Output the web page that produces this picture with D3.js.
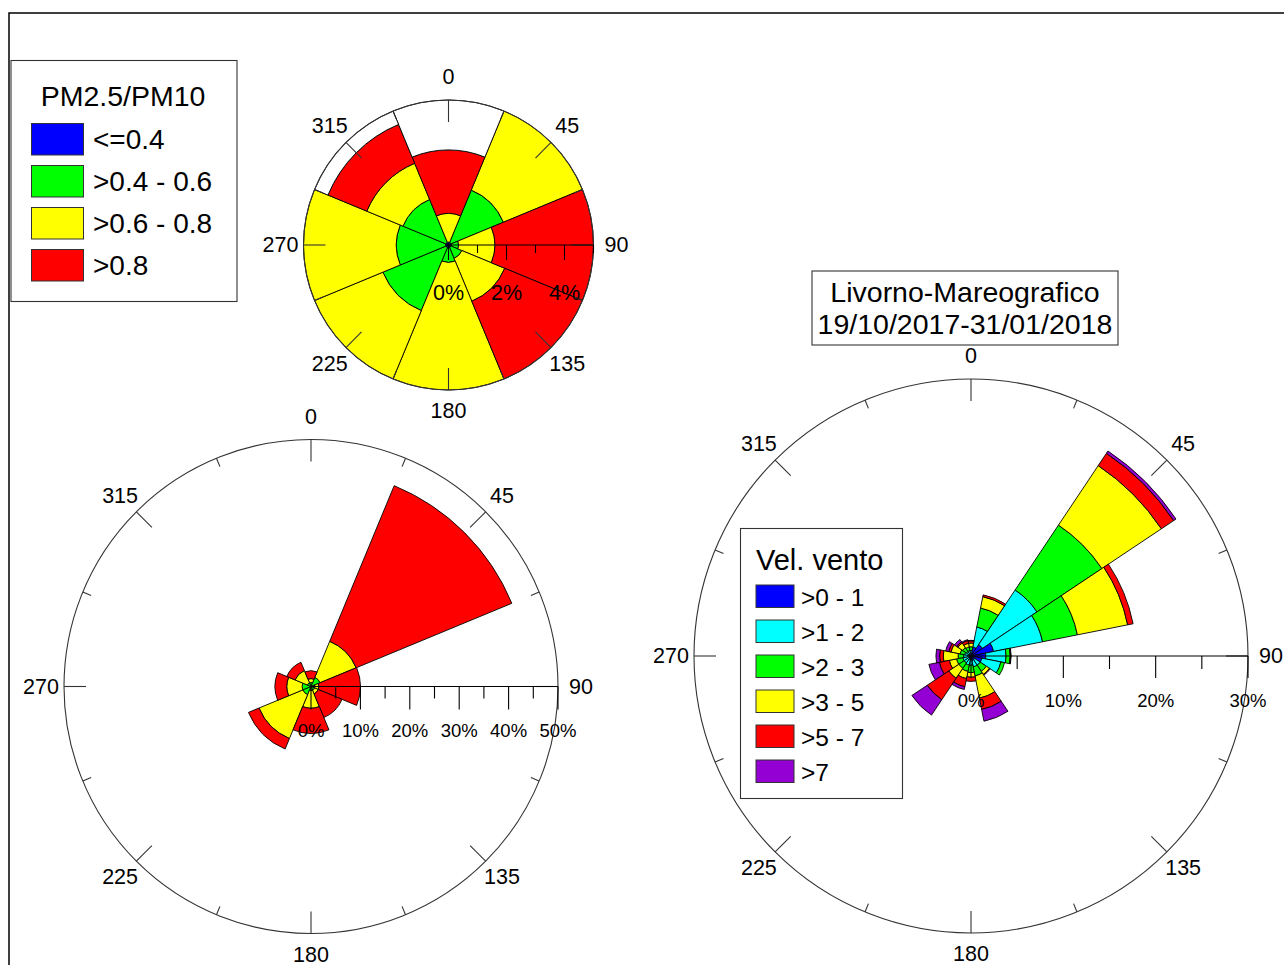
<!DOCTYPE html>
<html>
<head>
<meta charset="utf-8">
<script src="https://cdn.jsdelivr.net/npm/d3@7"></script>
<style>
  body { margin: 0; background: #fff; }
  text { font-family: "Liberation Sans", Arial, sans-serif; fill: #000; }
</style>
</head>
<body>
<svg id="chart" width="1284" height="965"></svg>
<script>
// ---- data ----
const dirs8 = [0, 45, 90, 135, 180, 225, 270, 315];
const dirs16 = [0, 22.5, 45, 67.5, 90, 112.5, 135, 157.5, 180, 202.5, 225, 247.5, 270, 292.5, 315, 337.5];

const pmLabels = ["<=0.4", ">0.4 - 0.6", ">0.6 - 0.8", ">0.8"];
const pmColors = ["#0000ff", "#00ff00", "#ffff00", "#ff0000"];

// upper rose (% per sector, per PM2.5/PM10 class), last row = unclassified (white)
const upBlue   = [0.1, 0.1, 0.1, 0.1, 0.1, 0.1, 0.1, 0.1];
const upGreen  = [0, 1.95, 0.25, 0.4, 0.5, 2.35, 1.7, 1.6];
const upYellow = [0.99, 2.95, 1.25, 1.6, 4.4, 2.55, 3.2, 1.35];
const upRed    = [2.19, 0, 3.4, 2.9, 0, 0, 0, 1.45];
const upND     = [1.72, 0, 0, 0, 0, 0, 0, 0.5];

// lower-left rose
const loBlue   = [0.1, 0.1, 0.1, 0.1, 0.1, 0.1, 0.1, 0.1];
const loGreen  = [0.7, 1.9, 0.7, 0.7, 0.7, 1.7, 1.7, 0.7];
const loYellow = [0.8, 7.9, 0.8, 0.8, 3.6, 9.6, 3.1, 2.7];
const loRed    = [1.6, 34.1, 8.4, 5.2, 5.1, 2.3, 2.4, 1.8];

// wind rose
const windLabels = [">0 - 1", ">1 - 2", ">2 - 3", ">3 - 5", ">5 - 7", ">7"];
const windColors = ["#0000ff", "#00ffff", "#00ff00", "#ffff00", "#ff0000", "#9400d3"];
const ws01 = [0.3, 1.0, 1.5, 2.5, 1.6, 1.2, 0.5, 0.5, 0.4, 0.4, 0.3, 0.3, 0.3, 0.3, 0.3, 0.3];
const ws12 = [0.3, 2.2, 7.1, 5.4, 2.2, 2.1, 0.7, 0.7, 0.6, 0.6, 0.6, 0.6, 0.5, 0.4, 0.3, 0.3];
const ws23 = [0.4, 2.1, 8.45, 3.85, 0.45, 0.4, 0.8, 1.0, 0.8, 0.7, 0.7, 0.7, 0.6, 0.5, 0.5, 0.4];
const ws35 = [0.4, 1.25, 7.75, 5.55, 0.05, 0, 0.4, 2.45, 0.5, 0.8, 1.3, 0.8, 1.6, 1.0, 0.6, 0.4];
const ws57 = [0.25, 0.2, 1.6, 0.6, 0.05, 0, 0.1, 1.25, 0.45, 0.9, 2.8, 1.1, 0.4, 0.25, 0.15, 0.3];
const ws7  = [0.05, 0, 0.3, 0, 0, 0, 0, 1.3, 0, 0.3, 2.0, 1.15, 0.4, 0.35, 0.3, 0.1];

const dirLabels = [0, 45, 90, 135, 180, 225, 270, 315];

const svg = d3.select("#chart");

svg.append("rect")
    .attr("x", 9).attr("y", 13)
    .attr("width", 1300).attr("height", 1000)
    .attr("fill", "none")
    .attr("stroke", "#000")
    .attr("stroke-width", 1.5);

function drawRose(o) {
    const g = svg.append("g").attr("transform", `translate(${o.cx},${o.cy})`);
    const r = d3.scaleLinear().domain([0, o.max]).range([0, o.radius]);
    const half = o.width / 2 * Math.PI / 180;

    const keys = o.series.map((s, i) => "k" + i);
    const rows = o.dirs.map((d, j) => {
        const row = { dir: d };
        o.series.forEach((s, i) => row["k" + i] = s[j]);
        return row;
    });
    const stacked = d3.stack().keys(keys)(rows);

    const arc = d3.arc()
        .innerRadius(d => r(d[0]))
        .outerRadius(d => r(d[1]))
        .startAngle(d => d.data.dir * Math.PI / 180 - half)
        .endAngle(d => d.data.dir * Math.PI / 180 + half);

    stacked.forEach((layer, i) => {
        g.append("g").selectAll("path")
            .data(layer.filter(d => d[1] - d[0] > 0))
            .join("path")
            .attr("d", arc)
            .attr("fill", o.colors[i])
            .attr("stroke", "#000")
            .attr("stroke-width", 0.9);
    });

    // outer circle
    g.append("circle")
        .attr("r", o.radius)
        .attr("fill", "none")
        .attr("stroke", "#333")
        .attr("stroke-width", 1.1);

    // direction ticks
    const tickAngles = d3.range(0, 360, 22.5);
    g.selectAll(".dtick")
        .data(tickAngles)
        .join("line")
        .attr("x1", a => (o.radius - (a % 45 === 0 ? 22 : 9)) * Math.sin(a * Math.PI / 180))
        .attr("y1", a => -(o.radius - (a % 45 === 0 ? 22 : 9)) * Math.cos(a * Math.PI / 180))
        .attr("x2", a => o.radius * Math.sin(a * Math.PI / 180))
        .attr("y2", a => -o.radius * Math.cos(a * Math.PI / 180))
        .attr("stroke", "#333")
        .attr("stroke-width", 1.1);

    g.selectAll(".dlab")
        .data(dirLabels)
        .join("text")
        .attr("x", a => (o.radius + 23) * Math.sin(a * Math.PI / 180))
        .attr("y", a => -(o.radius + 23) * Math.cos(a * Math.PI / 180) - (a === 180 ? 2 : 0))
        .attr("text-anchor", "middle")
        .attr("dominant-baseline", "central")
        .style("font-size", "21.5px")
        .text(d => d);

    // radial axis along 90
    g.append("line")
        .attr("x1", 0).attr("y1", 0)
        .attr("x2", o.radius).attr("y2", 0)
        .attr("stroke", "#000")
        .attr("stroke-width", 1.1);

    const ticks = d3.range(0, o.max + 1e-9, o.tickStep);
    g.selectAll(".rtick")
        .data(ticks)
        .join("line")
        .attr("x1", v => r(v)).attr("x2", v => r(v))
        .attr("y1", 0)
        .attr("y2", v => (Math.round(v / o.labelStep * 1000) % 1000 === 0) ? o.longTick : o.shortTick)
        .attr("stroke", "#000")
        .attr("stroke-width", 1.1);

    g.selectAll(".rlab")
        .data(o.labels)
        .join("text")
        .attr("x", v => r(v))
        .attr("y", o.labelDy)
        .attr("text-anchor", "middle")
        .attr("dominant-baseline", "central")
        .style("font-size", o.labelSize + "px")
        .text(v => v + "%");
}

drawRose({
    cx: 448.5, cy: 245, radius: 145, max: 5, width: 45,
    dirs: dirs8,
    series: [upBlue, upGreen, upYellow, upRed, upND],
    colors: pmColors.concat(["#ffffff"]),
    tickStep: 1, labelStep: 2, longTick: 15, shortTick: 8,
    labels: [0, 2, 4], labelDy: 48, labelSize: 21.5
});

drawRose({
    cx: 311, cy: 686.5, radius: 247, max: 50, width: 45,
    dirs: dirs8,
    series: [loBlue, loGreen, loYellow, loRed],
    colors: pmColors,
    tickStep: 5, labelStep: 10, longTick: 23, shortTick: 12,
    labels: [0, 10, 20, 30, 40, 50], labelDy: 44, labelSize: 18.5
});

drawRose({
    cx: 971, cy: 656, radius: 277, max: 30, width: 22.5,
    dirs: dirs16,
    series: [ws01, ws12, ws23, ws35, ws57, ws7],
    colors: windColors,
    tickStep: 5, labelStep: 10, longTick: 22, shortTick: 13,
    labels: [0, 10, 20, 30], labelDy: 44, labelSize: 18.5
});

// ---- PM legend ----
const pmLeg = svg.append("g");
pmLeg.append("rect")
    .attr("x", 11).attr("y", 60.5)
    .attr("width", 226).attr("height", 241)
    .attr("fill", "#fff").attr("stroke", "#333").attr("stroke-width", 1.1);
pmLeg.append("text")
    .attr("x", 123).attr("y", 106)
    .attr("text-anchor", "middle")
    .style("font-size", "28.5px")
    .text("PM2.5/PM10");
pmLeg.selectAll(".sw")
    .data(pmLabels)
    .join("rect")
    .attr("x", 31.5)
    .attr("y", (d, i) => 123.5 + i * 42)
    .attr("width", 52).attr("height", 31.5)
    .attr("fill", (d, i) => pmColors[i])
    .attr("stroke", "#333").attr("stroke-width", 1);
pmLeg.selectAll(".lb")
    .data(pmLabels)
    .join("text")
    .attr("x", 93)
    .attr("y", (d, i) => 149 + i * 42)
    .style("font-size", "28px")
    .text(d => d);

// ---- title box ----
const tb = svg.append("g");
tb.append("rect")
    .attr("x", 812).attr("y", 271)
    .attr("width", 306).attr("height", 74)
    .attr("fill", "#fff").attr("stroke", "#333").attr("stroke-width", 1.1);
tb.append("text")
    .attr("x", 965).attr("y", 302)
    .attr("text-anchor", "middle")
    .style("font-size", "28.5px")
    .text("Livorno-Mareografico");
tb.append("text")
    .attr("x", 965).attr("y", 333.5)
    .attr("text-anchor", "middle")
    .style("font-size", "28.5px")
    .text("19/10/2017-31/01/2018");

// ---- wind legend ----
const wl = svg.append("g");
wl.append("rect")
    .attr("x", 740.5).attr("y", 528.5)
    .attr("width", 162).attr("height", 270)
    .attr("fill", "#fff").attr("stroke", "#333").attr("stroke-width", 1.1);
wl.append("text")
    .attr("x", 756).attr("y", 569.5)
    .style("font-size", "29px")
    .text("Vel. vento");
wl.selectAll(".sw")
    .data(windLabels)
    .join("rect")
    .attr("x", 756)
    .attr("y", (d, i) => 585 + i * 35)
    .attr("width", 38).attr("height", 22.5)
    .attr("fill", (d, i) => windColors[i])
    .attr("stroke", "#333").attr("stroke-width", 1);
wl.selectAll(".lb")
    .data(windLabels)
    .join("text")
    .attr("x", 801)
    .attr("y", (d, i) => 605.5 + i * 35)
    .style("font-size", "24.5px")
    .text(d => d);
</script>
</body>
</html>
